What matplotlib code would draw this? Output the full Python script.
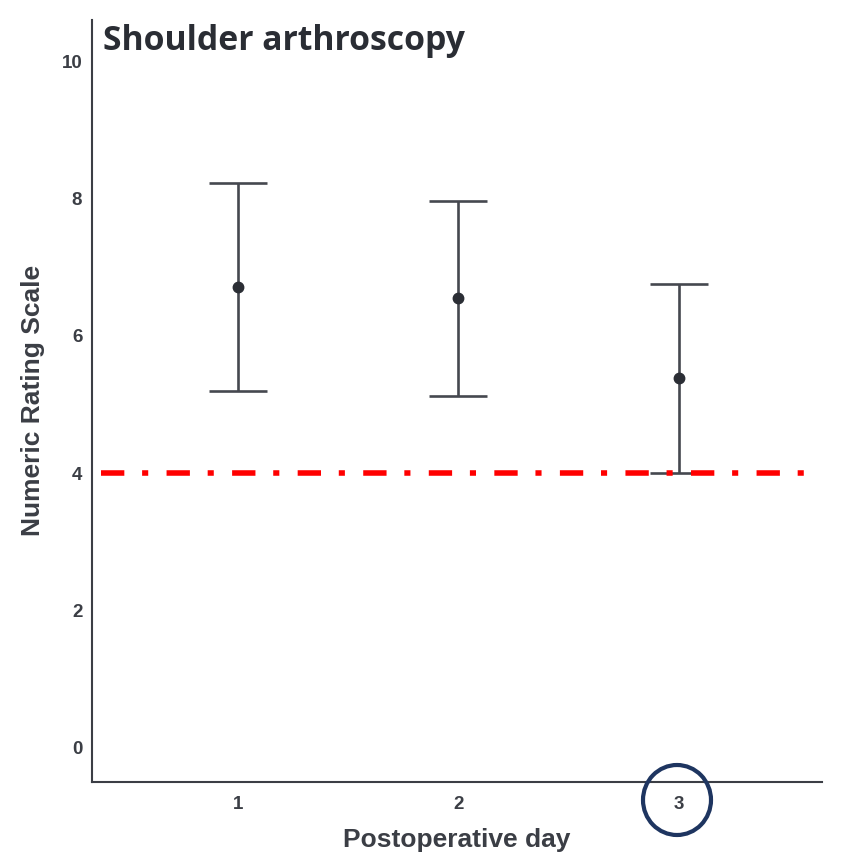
import matplotlib
matplotlib.use('Agg')
import matplotlib.pyplot as plt
from matplotlib.patches import Ellipse

days = [1, 2, 3]
means = [6.71, 6.55, 5.39]
upper = [8.22, 7.96, 6.75]
lower = [5.20, 5.12, 4.00]
threshold = 4.0
y_ticks = [0, 2, 4, 6, 8, 10]

dark = '#3b3e45'
fig = plt.figure(figsize=(8.47, 8.65), dpi=100)
ax = fig.add_axes([0.1086, 0.096, 0.862, 0.881])

err = [[m - lo for m, lo in zip(means, lower)], [u - m for m, u in zip(means, upper)]]
ax.errorbar(days, means, yerr=err, fmt='o', color=dark, ecolor='#45484f',
            elinewidth=1.9, capsize=21, capthick=1.9, markersize=7.5,
            markerfacecolor='#2b2e35', markeredgecolor='#2b2e35', zorder=3)

ax.hlines(threshold, 0.38, 3.6, colors='#ff0000', linestyles=(0, (4.2, 3.2, 1.1, 3.3)),
          linewidth=4, zorder=4)

ax.set_xlim(0.34, 3.65)
ax.set_ylim(-0.5, 10.6)
ax.set_xticks(days)
ax.set_yticks(y_ticks)
ax.tick_params(length=0, labelsize=13.5, labelcolor=dark)
ax.tick_params(axis='x', pad=10)
ax.tick_params(axis='y', pad=7)
for lab in ax.get_xticklabels() + ax.get_yticklabels():
    lab.set_fontweight('bold')
    lab.set_family('Liberation Sans')

for s in ['top', 'right']:
    ax.spines[s].set_visible(False)
for s in ['left', 'bottom']:
    ax.spines[s].set_color(dark)
    ax.spines[s].set_linewidth(1.5)

ax.set_xlabel('Postoperative day', fontsize=19, fontweight='bold',
              family='Liberation Sans', color=dark, labelpad=11)
ax.set_ylabel('Numeric Rating Scale', fontsize=19, fontweight='bold',
              family='Liberation Sans', color=dark, labelpad=12)

fig.text(103 / 847, 1 - 41 / 865, 'Shoulder arthroscopy', fontsize=24.3,
         fontweight='bold', family='Open Sans', color='#2a2d34', va='center')

fig.patches.append(Ellipse((677 / 847, 1 - 800 / 865), 68 / 847, 70 / 865,
                           transform=fig.transFigure, fill=False,
                           edgecolor='#1e3560', linewidth=3))

fig.savefig('out.png', dpi=100)
